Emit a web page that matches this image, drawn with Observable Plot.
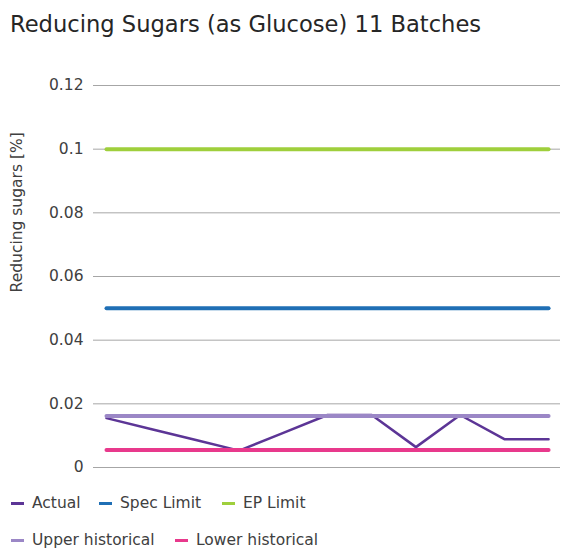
<!DOCTYPE html>
<html>
<head>
<meta charset="utf-8">
<script src="https://cdn.jsdelivr.net/npm/d3@7"></script>
<script src="https://cdn.jsdelivr.net/npm/@observablehq/plot@0.6"></script>
<style>
  html, body { margin: 0; padding: 0; background: #fff; }
  body { width: 563px; height: 550px; position: relative; overflow: hidden; font-family: "DejaVu Sans", Verdana, sans-serif; }
  #title { position: absolute; left: 10px; top: 11px; font-size: 22.6px; color: #262626; white-space: nowrap; }
  #chart { position: absolute; left: 0; top: 60px; }
  .leg { position: absolute; font-size: 15.5px; color: #404040; white-space: nowrap; display: flex; align-items: center; }
  .sw { display: inline-block; width: 13px; height: 3px; margin-right: 8px; }
</style>
</head>
<body>
<div id="title">Reducing Sugars (as Glucose) 11 Batches</div>
<div id="chart"></div>
<div id="legend"></div>
<script>
const batches = [1, 2, 3, 4, 5, 6, 7, 8, 9, 10, 11];
const actual = [0.0155, 0.0121, 0.0087, 0.0053, 0.0109, 0.0165, 0.0165, 0.0064, 0.0165, 0.0089, 0.0089];
const specLimit = 0.05;
const epLimit = 0.1;
const upperHistorical = 0.0162;
const lowerHistorical = 0.0055;
const yTicks = [0, 0.02, 0.04, 0.06, 0.08, 0.1, 0.12];
const seriesNames = ["Actual", "Spec Limit", "EP Limit", "Upper historical", "Lower historical"];
const seriesColors = ["#5c3596", "#1f6fb5", "#9fcf3c", "#9b87c6", "#e8398c"];

const actualData = batches.map((b, i) => ({batch: b, value: actual[i]}));
const flat = v => batches.map(b => ({batch: b, value: v}));

const chart = Plot.plot({
  width: 563,
  height: 420,
  marginLeft: 93,
  marginRight: 3,
  marginTop: 25,
  marginBottom: 13,
  style: {fontFamily: "DejaVu Sans, Verdana, sans-serif", fontSize: "15.5px", color: "#404040", background: "transparent"},
  x: {domain: [0.706, 11.27], axis: null},
  y: {domain: [0, 0.12], ticks: yTicks, tickFormat: d => String(+d.toFixed(2)), tickSize: 0, tickPadding: 10, label: null},
  marks: [
    Plot.ruleY(yTicks, {stroke: "#a6a6a6", strokeWidth: 1}),
    Plot.line(actualData, {x: "batch", y: "value", stroke: seriesColors[0], strokeWidth: 2.5, strokeLinejoin: "miter"}),
    Plot.line(flat(specLimit), {x: "batch", y: "value", stroke: seriesColors[1], strokeWidth: 4}),
    Plot.line(flat(epLimit), {x: "batch", y: "value", stroke: seriesColors[2], strokeWidth: 4}),
    Plot.line(flat(upperHistorical), {x: "batch", y: "value", stroke: seriesColors[3], strokeWidth: 4}),
    Plot.line(flat(lowerHistorical), {x: "batch", y: "value", stroke: seriesColors[4], strokeWidth: 4})
  ]
});
document.getElementById("chart").appendChild(chart);

// y-axis title
const ys = chart.scale("y");
const svg = d3.select(chart);
svg.append("text")
  .attr("transform", `translate(22,${ys.apply(0.08)}) rotate(-90)`)
  .attr("text-anchor", "middle")
  .attr("fill", "#404040")
  .style("font-size", "15.5px")
  .text("Reducing sugars [%]");

// legend
const legPos = [
  {left: 11, top: 494},
  {left: 99, top: 494},
  {left: 222, top: 494},
  {left: 11, top: 531},
  {left: 175, top: 531}
];
const leg = document.getElementById("legend");
seriesNames.forEach((name, i) => {
  const d = document.createElement("div");
  d.className = "leg";
  d.style.left = legPos[i].left + "px";
  d.style.top = legPos[i].top + "px";
  d.innerHTML = `<span class="sw" style="background:${seriesColors[i]}"></span><span>${name}</span>`;
  leg.appendChild(d);
});
</script>
</body>
</html>
